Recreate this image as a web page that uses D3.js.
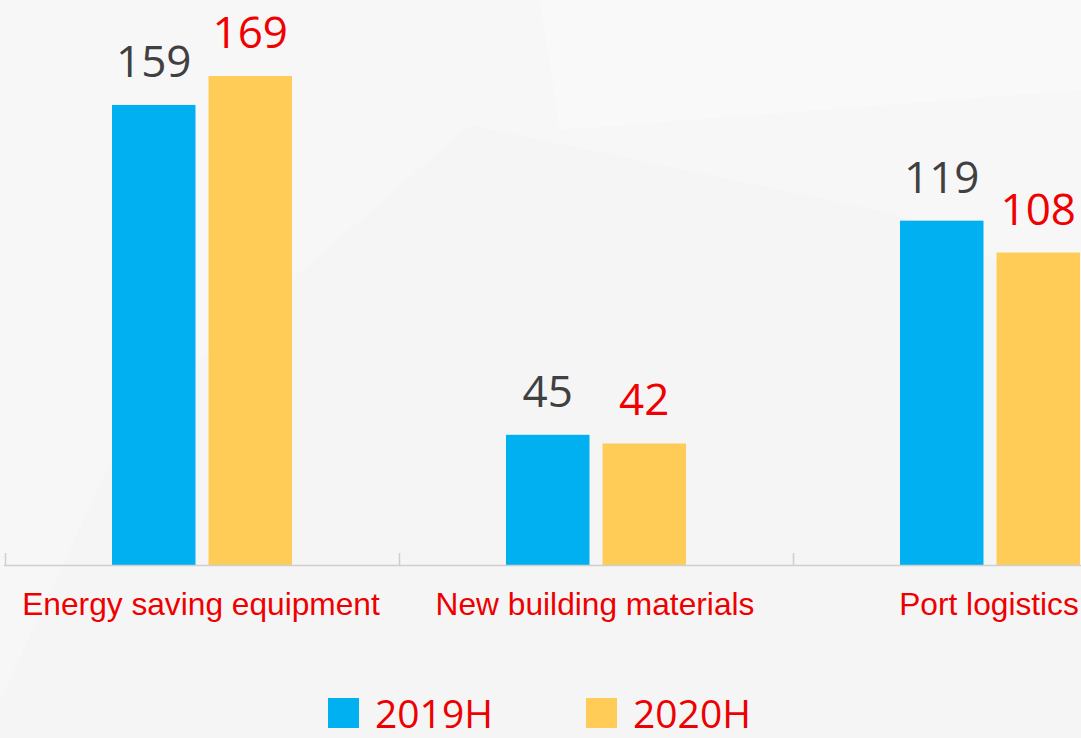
<!DOCTYPE html>
<html>
<head>
<meta charset="utf-8">
<script src="https://cdn.jsdelivr.net/npm/d3@7"></script>
<style>
  html, body { margin: 0; padding: 0; background: #f6f6f7; overflow: hidden; }
  svg { display: block; }
</style>
</head>
<body>
<div id="wrapper"></div>
<script>
// data
const categories = ['Energy saving equipment', 'New building materials', 'Port logistics'];
const seriesNames = ['2019H', '2020H'];
const values2019 = [159, 45, 119];
const values2020 = [169, 42, 108];

const colors = { '2019H': '#00b0f0', '2020H': '#ffcd57' };
const labelColors = { '2019H': '#404040', '2020H': '#f00000' };

let dimensions = {
    width: 1081,
    height: 738,
    baseline: 565
};

const svg = d3.select('#wrapper').append('svg')
    .attr('width', dimensions.width)
    .attr('height', dimensions.height);

// background with faint shapes
svg.append('rect')
    .attr('width', dimensions.width)
    .attr('height', dimensions.height)
    .attr('fill', '#f7f7f8');

svg.append('path')
    .attr('d', 'M0,0 L540,0 L560,130 L1081,90 L1081,0 Z')
    .attr('fill', '#f9f9fa');
svg.append('path')
    .attr('d', 'M470,125 L900,215 L1081,300 L1081,738 L0,738 L0,700 L130,420 Z')
    .attr('fill', '#f5f5f6');

const bounds = svg.append('g');

// scales
const x0 = d3.scaleBand()
    .domain(categories)
    .range([5, 5 + 394 * 3])
    .padding(0);

const x1 = d3.scaleBand()
    .domain(seriesNames)
    .range([107, 287])
    .paddingInner(0.135);

const yScale = d3.scaleLinear()
    .domain([0, 169])
    .range([dimensions.baseline, 76]);

const rows = categories.map((c, i) => ({
    category: c,
    items: [
        { key: '2019H', value: values2019[i] },
        { key: '2020H', value: values2020[i] }
    ]
}));

// bars
const groups = bounds.selectAll('g.cat')
    .data(rows)
    .join('g')
    .attr('class', 'cat')
    .attr('transform', d => `translate(${x0(d.category)},0)`);

groups.selectAll('rect')
    .data(d => d.items)
    .join('rect')
    .attr('x', d => x1(d.key))
    .attr('y', d => yScale(d.value))
    .attr('width', x1.bandwidth())
    .attr('height', d => dimensions.baseline - yScale(d.value))
    .attr('fill', d => colors[d.key]);

groups.selectAll('text.val')
    .data(d => d.items)
    .join('text')
    .attr('class', 'val')
    .attr('x', d => x1(d.key) + x1.bandwidth() / 2)
    .attr('y', d => yScale(d.value) - 28)
    .attr('text-anchor', 'middle')
    .style('font-family', '"Open Sans", "Noto Sans", sans-serif')
    .style('font-size', '44px')
    .style('fill', d => labelColors[d.key])
    .text(d => d.value);

// axis
bounds.append('line')
    .attr('x1', 4).attr('x2', dimensions.width)
    .attr('y1', dimensions.baseline + 0.5).attr('y2', dimensions.baseline + 0.5)
    .attr('stroke', '#cfcfcf')
    .attr('stroke-width', 1.5);

bounds.selectAll('line.tick-mark')
    .data(categories)
    .join('line')
    .attr('class', 'tick-mark')
    .attr('x1', d => x0(d) + 0.5)
    .attr('x2', d => x0(d) + 0.5)
    .attr('y1', dimensions.baseline - 12)
    .attr('y2', dimensions.baseline)
    .attr('stroke', '#cfcfcf')
    .attr('stroke-width', 1.5);

// category labels
bounds.selectAll('text.cat-label')
    .data(categories)
    .join('text')
    .attr('class', 'cat-label')
    .attr('x', d => x0(d) + x0.bandwidth() / 2 - 1)
    .attr('y', 615)
    .attr('text-anchor', 'middle')
    .style('font-family', '"Liberation Sans", Arial, sans-serif')
    .style('font-size', '31.7px')
    .style('fill', '#ee0000')
    .text(d => d);

// legend
const legendX = [328, 586];
const legend = svg.append('g');
const legendItems = legend.selectAll('g')
    .data(seriesNames)
    .join('g')
    .attr('transform', (d, i) => `translate(${legendX[i]},698)`);

legendItems.append('rect')
    .attr('width', 31)
    .attr('height', 30)
    .attr('fill', d => colors[d]);

legendItems.append('text')
    .attr('x', 47)
    .attr('y', 30)
    .style('font-family', '"Open Sans", "Noto Sans", sans-serif')
    .style('font-size', '39px')
    .style('fill', '#ee0000')
    .text(d => d);
</script>
</body>
</html>
